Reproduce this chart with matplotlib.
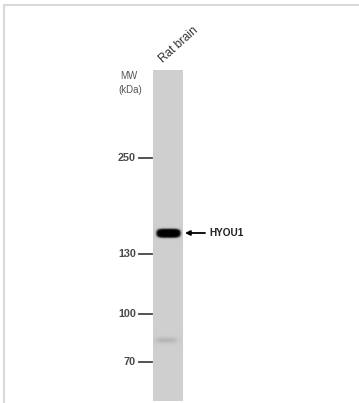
import numpy as np
import matplotlib
matplotlib.use('Agg')
import matplotlib.pyplot as plt

plt.rcParams['font.family'] = ['Liberation Sans', 'DejaVu Sans']

# ladder markers (kDa) and their migration position on the gel (px from top)
mw_labels = ['250', '130', '100', '70']
mw_pos = [158, 254, 314, 362]

lane_name = 'Rat brain'
target = 'HYOU1'
# bands: position, intensity (0..1)
band_pos = [233, 340]
band_int = [1.0, 0.1]

W, H = 359, 403
fig = plt.figure(figsize=(W / 100, H / 100), dpi=100)
ax = fig.add_axes([0, 0, 1, 1])
ax.set_xlim(0, W)
ax.set_ylim(H, 0)
ax.axis('off')

# outer frame
ax.plot([4, 4, W], [H, 5, 5], color='#d8d8d8', lw=1.5)

# lane image
lx0, lx1, ly0, ly1 = 153, 183, 70, 401
yy = np.arange(ly0, ly1, 0.5)
xx = np.arange(lx0, lx1, 0.5)
img = np.full((len(yy), len(xx)), 0.81)
# main band: rounded rectangle-ish blob
p = band_pos[0]
d = (np.abs((xx[None, :] - 168.3) / 12.8) ** 5 + np.abs((yy[:, None] - p) / 5.0) ** 2.5) ** 0.4
img -= band_int[0] * 0.81 / (1 + np.exp((d - 0.9) / 0.08))
# faint band
p = band_pos[1]
prof_y = np.exp(-0.5 * ((yy - p) / 2.0) ** 2)
prof_x = 1 / (1 + np.exp(-(xx - 156) / 1.5)) / (1 + np.exp((xx - 176) / 1.5))
img -= band_int[1] * prof_y[:, None] * prof_x[None, :]
img = np.clip(img, 0, 1)
ax.imshow(img, cmap='gray', vmin=0, vmax=1, extent=[lx0, lx1, ly1, ly0],
          aspect='auto', interpolation='bilinear')

# MW ladder
ax.text(120, 76, 'MW', fontsize=7, color='#555555', va='center', ha='left')
ax.text(118, 90, '(kDa)', fontsize=7, color='#555555', va='center', ha='left')
for lab, pos in zip(mw_labels, mw_pos):
    ax.plot([139, 152], [pos, pos], color='#444444', lw=1.3)
    ax.text(136, pos, lab, fontsize=7.8, fontweight='bold', color='#4a4a4a',
            va='center', ha='right')

# lane label
ax.text(165, 65, lane_name, fontsize=8.5, color='#333333', rotation=42,
        ha='left', va='bottom', rotation_mode='anchor')

# target arrow
ax.annotate('', xy=(185, band_pos[0]), xytext=(205, band_pos[0]),
            arrowprops=dict(arrowstyle='-|>', color='black', lw=1.3,
                            mutation_scale=7, shrinkA=0, shrinkB=0))
ax.text(209, band_pos[0], target, fontsize=7.2, fontweight='bold',
        color='#222222', va='center', ha='left')

fig.savefig('out.png', dpi=100, facecolor='white')
